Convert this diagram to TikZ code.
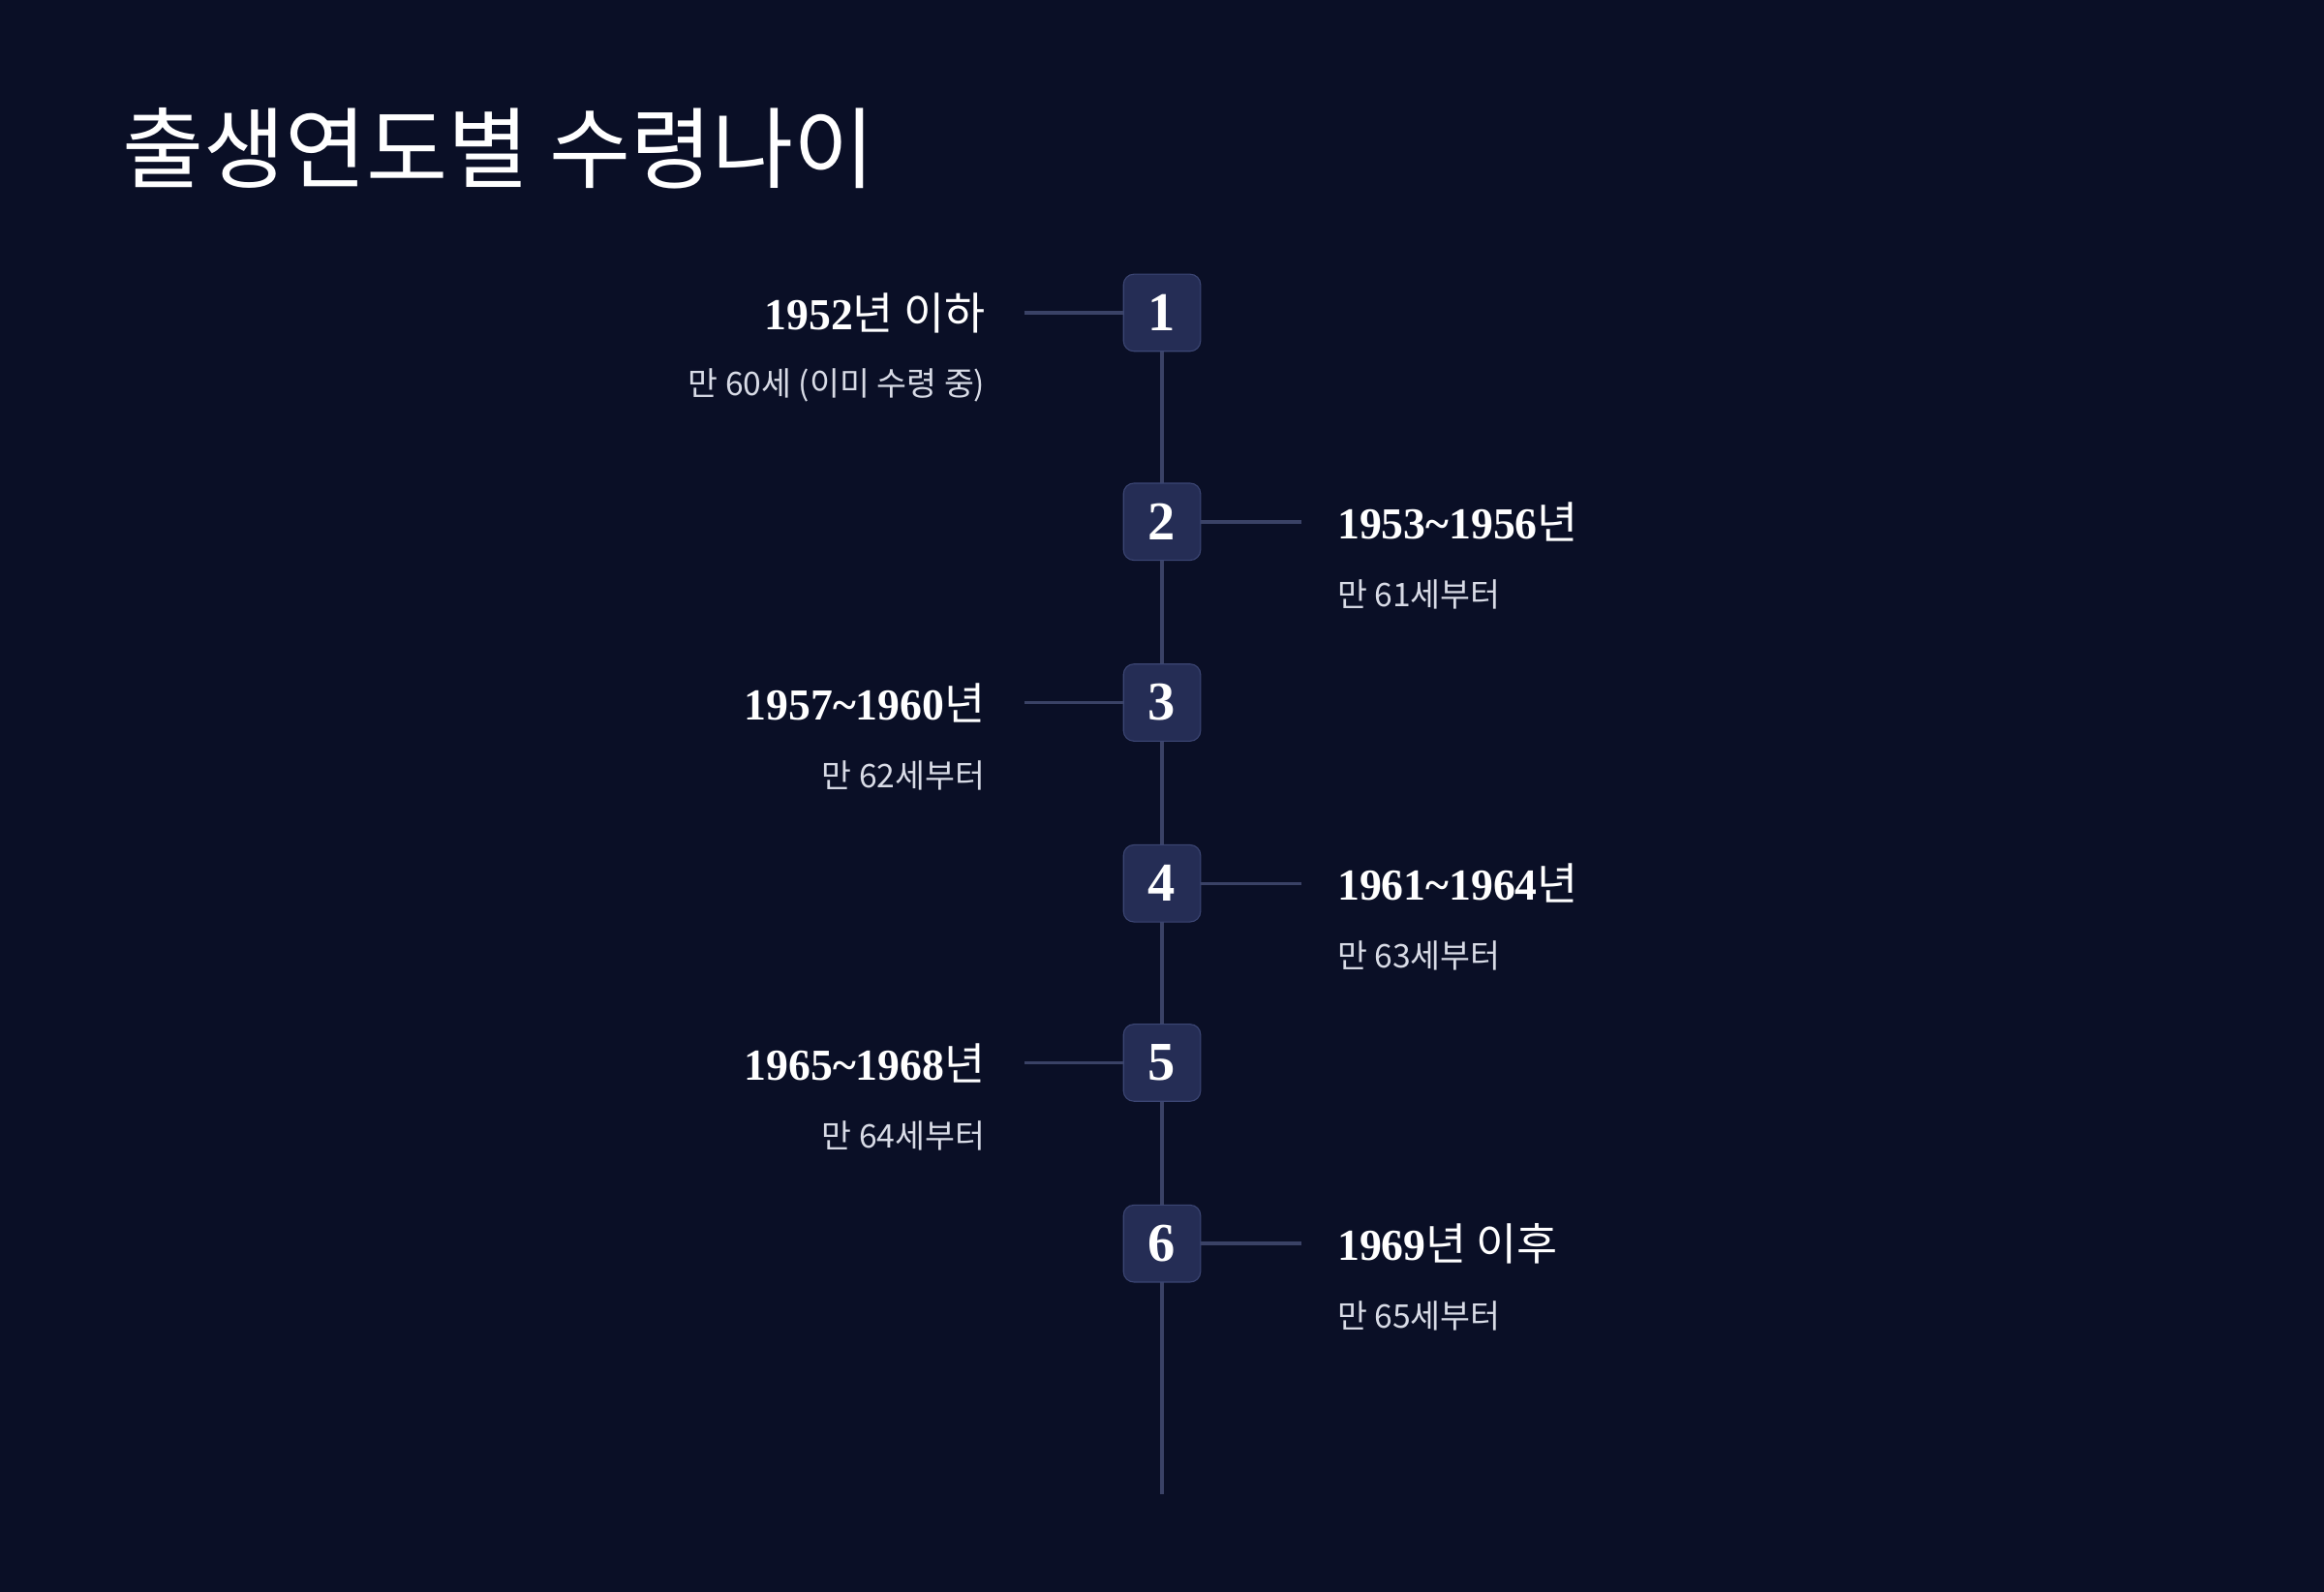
\documentclass[tikz,border=0pt]{standalone}
\usepackage{fontspec}
\newfontfamily\cjk{Noto Sans CJK KR}
\newfontfamily\serif{Liberation Serif}
\definecolor{bg}{HTML}{0A0F26}
\definecolor{boxf}{HTML}{252D55}
\definecolor{boxd}{HTML}{3C4674}
\definecolor{ln}{HTML}{3A4266}
\definecolor{sub}{HTML}{D8DBE6}
\tikzset{
 px/.style={x=0.02cm,y=-0.02cm},
 numbox/.style={draw=boxd,fill=boxf,rounded corners=4pt,minimum size=1.04cm,inner sep=0pt,text=white,font=\serif\bfseries\fontsize{21}{21}\selectfont},
 ttl/.style={text=white,inner sep=0pt,font=\fontsize{17}{17}\selectfont},
 subt/.style={text=sub,inner sep=0pt,font=\cjk\fontsize{12.5}{12.5}\selectfont},
 conn/.style={draw=ln,line width=1.3pt}
}
\begin{document}
\begin{tikzpicture}[px]
\fill[bg] (0,0) rectangle (1568,1074);
\useasboundingbox (0,0) rectangle (1568,1074);
\node[anchor=west,text=white,inner sep=0pt,font=\cjk\fontsize{34}{34}\selectfont] (title) at (82,100) {출생연도별 수령나이};
\coordinate (top) at (784,237);
\coordinate (bot) at (784,1008);
\draw[conn] (top) -- (bot);
\foreach \i/\y in {1/211,2/352,3/474,4/596,5/717,6/839}{
  \node[numbox] (b\i) at (784,\y) {\i};
}
% left side
\foreach \i/\y/\t/\s in {1/211/{{\serif\bfseries 1952}{\cjk 년 이하}}/{만 60세 (이미 수령 중)},3/474/{{\serif\bfseries 1957\textasciitilde1960}{\cjk 년}}/{만 62세부터},5/717/{{\serif\bfseries 1965\textasciitilde1968}{\cjk 년}}/{만 64세부터}}{
  \coordinate (l\i) at (691,\y);
  \draw[conn] (l\i) -- (b\i.west);
  \node[ttl,anchor=east] (t\i) at (665,\y) {\t};
  \node[subt,anchor=east] (s\i) at (665,\y+49) {\s};
}
\foreach \i/\y/\t/\s in {2/352/{{\serif\bfseries 1953\textasciitilde1956}{\cjk 년}}/{만 61세부터},4/596/{{\serif\bfseries 1961\textasciitilde1964}{\cjk 년}}/{만 63세부터},6/839/{{\serif\bfseries 1969}{\cjk 년 이후}}/{만 65세부터}}{
  \coordinate (r\i) at (878,\y);
  \draw[conn] (b\i.east) -- (r\i);
  \node[ttl,anchor=west] (t\i) at (902,\y) {\t};
  \node[subt,anchor=west] (s\i) at (902,\y+49) {\s};
}
\end{tikzpicture}
\end{document}
